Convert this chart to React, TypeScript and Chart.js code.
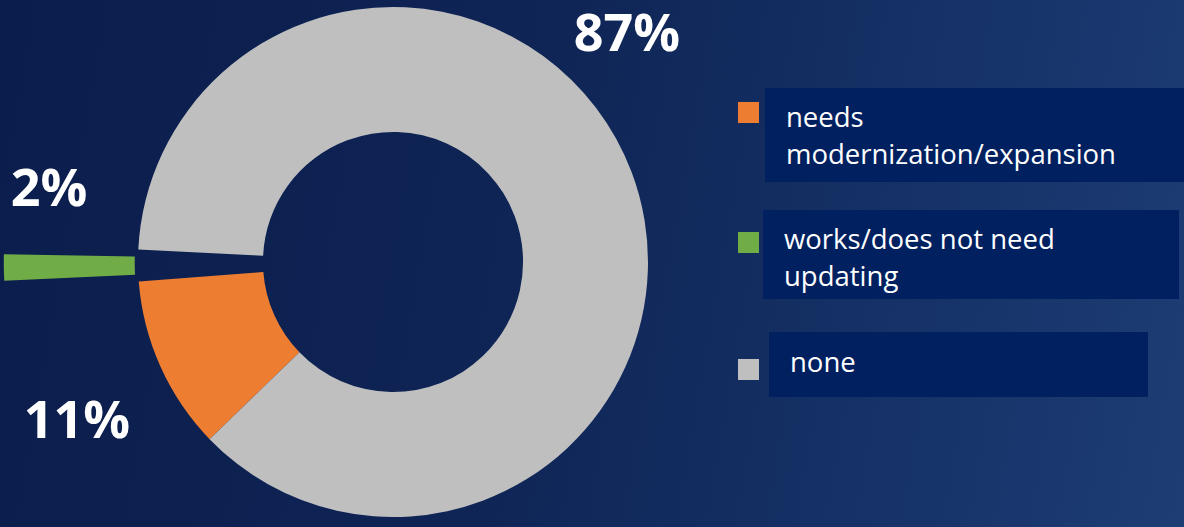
import React, { useEffect, useRef } from "react";
import { Chart, registerables } from "chart.js";

Chart.register(...registerables);

const categories = ["needs modernization/expansion", "works/does not need updating", "none"];
const values = [11, 2, 87];
const colors = ["#ED7D31", "#70AD47", "#BFBFBF"];
const explode = [0, 280, 0];

// layout constants (not data)
const W = 1184;
const H = 527;
const CX = 393;
const CY = 262;
const R = 255;
const labelAnchors = [
  [77, 423],
  [49, 191],
  [627, 36],
];
const legendBoxes = [
  { sq: 102, top: 88, left: 765, right: 1184, h: 94, pad: 11 },
  { sq: 232, top: 210, left: 763, right: 1179, h: 89, pad: 11 },
  { sq: 359, top: 332, left: 769, right: 1148, h: 65, pad: 12 },
];
const legendLines = [
  ["needs", "modernization/expansion"],
  ["works/does not need", "updating"],
  ["none"],
];

const pctLabels = {
  id: "pctLabels",
  afterDatasetsDraw(chart: any) {
    const ctx = chart.ctx;
    const data = chart.data.datasets[0].data as number[];
    ctx.save();
    ctx.fillStyle = "#FFFFFF";
    ctx.font = "bold 52px 'Open Sans'";
    ctx.textAlign = "center";
    ctx.textBaseline = "middle";
    data.forEach((v, i) => {
      const [x, y] = labelAnchors[i];
      ctx.fillText(`${v}%`, x, y);
    });
    ctx.restore();
  },
};

export default function App() {
  const ref = useRef<HTMLCanvasElement | null>(null);
  useEffect(() => {
    if (!ref.current) return;
    const chart = new Chart(ref.current, {
      type: "doughnut",
      data: {
        labels: categories,
        datasets: [
          {
            data: values,
            backgroundColor: colors,
            borderColor: colors,
            borderWidth: [0, 6, 0],
            borderJoinStyle: "miter",
            offset: explode,
            hoverOffset: 0,
          } as any,
        ],
      },
      options: {
        responsive: false,
        maintainAspectRatio: false,
        animation: false,
        rotation: 226,
        cutout: "51%",
        radius: R,
        layout: {
          padding: { left: 0, top: 0, right: W - 2 * CX, bottom: H - 2 * CY },
        },
        plugins: {
          legend: { display: false },
          tooltip: { enabled: false },
        },
      } as any,
      plugins: [pctLabels],
    });
    return () => chart.destroy();
  }, []);

  return (
    <div
      style={{
        position: "fixed",
        left: 0,
        top: 0,
        width: W,
        height: H,
        overflow: "hidden",
        background:
          "linear-gradient(100deg, #0b1d4c 0%, #0f2556 45%, #17346a 80%, #1d3d74 100%)",
        fontFamily: "'Open Sans', sans-serif",
      }}
    >
      <canvas ref={ref} width={W} height={H} style={{ position: "absolute", left: 0, top: 0 }} />
      {categories.map((c, i) => {
        const b = legendBoxes[i];
        return (
          <React.Fragment key={c}>
            <div
              style={{
                position: "absolute",
                left: 738,
                top: b.sq,
                width: 21,
                height: 21,
                background: colors[i],
              }}
            />
            <div
              style={{
                position: "absolute",
                left: b.left,
                top: b.top,
                width: b.right - b.left,
                height: b.h,
                background: "#002060",
                boxSizing: "border-box",
                paddingTop: b.pad - 1,
                paddingLeft: 21,
                color: "#FFFFFF",
                fontSize: 27.5,
                lineHeight: "37px",
              }}
              title={c}
            >
              {legendLines[i].map((l) => (
                <div key={l}>{l}</div>
              ))}
            </div>
          </React.Fragment>
        );
      })}
    </div>
  );
}
